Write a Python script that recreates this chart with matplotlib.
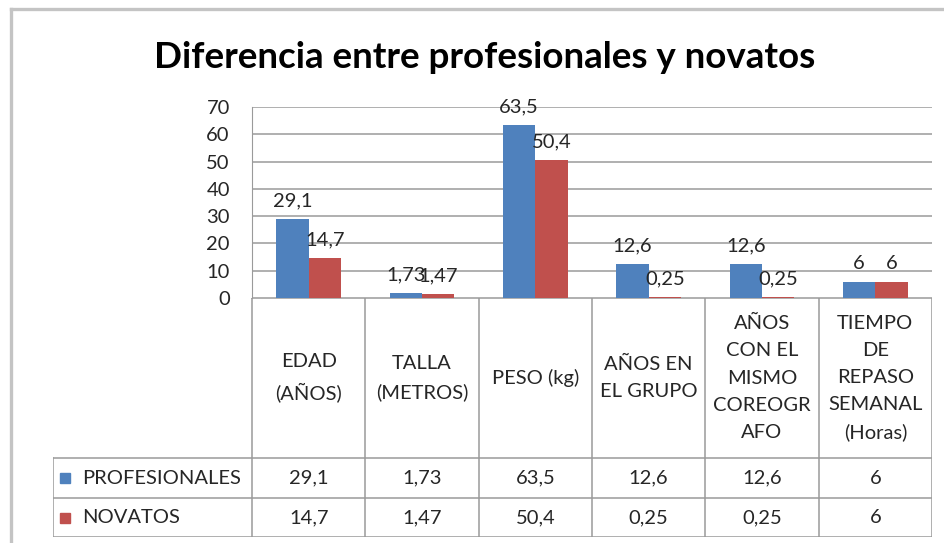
import matplotlib.pyplot as plt
from matplotlib.lines import Line2D

plt.rcParams['font.family'] = ['Lato', 'DejaVu Sans']

titulo = 'Diferencia entre profesionales y novatos'
categorias = ['EDAD\n(AÑOS)', 'TALLA\n(METROS)', 'PESO (kg)', 'AÑOS EN\nEL GRUPO',
              'AÑOS\nCON EL\nMISMO\nCOREOGR\nAFO', 'TIEMPO\nDE\nREPASO\nSEMANAL\n(Horas)']
series = ['PROFESIONALES', 'NOVATOS']
profesionales = [29.1, 1.73, 63.5, 12.6, 12.6, 6]
novatos = [14.7, 1.47, 50.4, 0.25, 0.25, 6]
colores = ['#4F81BD', '#C0504D']


def etiqueta(v):
    return f'{v:g}'.replace('.', ',')


W, H = 944, 543
fs = 14.5
fig = plt.figure(figsize=(W / 100, H / 100), dpi=100)
fig.patch.set_facecolor('white')

# marco exterior gris
marco = '#C4C4C4'
fig.add_artist(Line2D([11 / W, 11 / W], [0, 1 - 9 / H], color=marco, lw=2.4, transform=fig.transFigure))
fig.add_artist(Line2D([11 / W, 1], [1 - 9 / H, 1 - 9 / H], color=marco, lw=2.4, transform=fig.transFigure))

fig.text(485 / W, 1 - 57 / H, titulo, ha='center', va='center', fontsize=26.5, fontweight='bold')

gris = '#9A9A9A'

# grafico de barras
ax = fig.add_axes([252 / W, 1 - 298 / H, 680 / W, 191 / H])
n = len(categorias)
x = list(range(n))
ancho = 0.286
ax.bar([i - ancho / 2 for i in x], profesionales, ancho, color=colores[0], zorder=3)
ax.bar([i + ancho / 2 for i in x], novatos, ancho, color=colores[1], zorder=3)
for i in x:
    ax.annotate(etiqueta(profesionales[i]), (i - ancho / 2, profesionales[i]), xytext=(0, 7),
                textcoords='offset points', ha='center', va='bottom', fontsize=fs, color='#262626')
    ax.annotate(etiqueta(novatos[i]), (i + ancho / 2, novatos[i]), xytext=(0, 7),
                textcoords='offset points', ha='center', va='bottom', fontsize=fs, color='#262626')
ax.set_xlim(-0.5, n - 0.5)
ax.set_ylim(0, 70)
ax.set_yticks(range(0, 71, 10))
ax.set_xticks([])
ax.yaxis.grid(True, color=gris, lw=1.1, zorder=0)
ax.tick_params(axis='y', length=0, pad=16, labelsize=fs, labelcolor='#262626')
for s in ['top', 'right', 'bottom']:
    ax.spines[s].set_visible(False)
ax.spines['left'].set_color(gris)

# tabla de datos
px_ud = 680 / n
lab_w = (252 - 53) / px_ud
tab = fig.add_axes([53 / W, 1 - 537 / H, (932 - 53) / W, 239 / H])
tab.set_xlim(-0.5 - lab_w, n - 0.5)
tab.set_ylim(239, 0)
tab.axis('off')
izq = -0.5 - lab_w
for i in range(n + 1):
    tab.plot([i - 0.5, i - 0.5], [0, 239], color=gris, lw=1.1)
tab.plot([izq, izq], [160, 239], color=gris, lw=1.1)
tab.plot([-0.5, n - 0.5], [0, 0], color=gris, lw=1.1)
for yy in [160, 200, 239]:
    tab.plot([izq, n - 0.5], [yy, yy], color=gris, lw=1.1)

for i, c in enumerate(categorias):
    tab.text(i, 80, c, ha='center', va='center', fontsize=fs, linespacing=1.72, color='#262626')
    tab.text(i, 180, etiqueta(profesionales[i]), ha='center', va='center', fontsize=fs, color='#262626')
    tab.text(i, 219.5, etiqueta(novatos[i]), ha='center', va='center', fontsize=fs, color='#262626')

for k, (nombre, y0) in enumerate(zip(series, [180, 219.5])):
    tab.plot([izq + 12 / px_ud], [y0], marker='s', ms=7, color=colores[k], lw=0)
    tab.text(izq + 29 / px_ud, y0, nombre, ha='left', va='center', fontsize=fs, color='#262626')

fig.savefig('out.png', dpi=100)
